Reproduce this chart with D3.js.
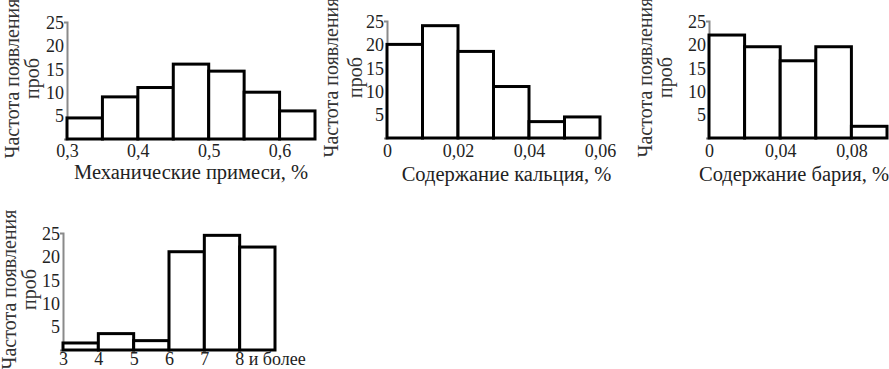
<!doctype html>
<html lang="ru">
<head>
  <meta charset="utf-8">
  <title>Histograms</title>
  <script src="https://d3js.org/d3.v7.min.js"></script>
  <style>
    html, body { margin: 0; padding: 0; background: #fff; }
    svg { display: block; font-family: "Liberation Serif", "Times New Roman", serif; }
    .bar { fill: #fff; stroke: #000; stroke-width: 3; }
    .axis path { stroke: #8a8a8a; stroke-width: 2; }
    .axis line { stroke: #8a8a8a; }
    .axis text { font-size: 18px; fill: #222; font-family: "Liberation Serif", serif; }
    .title { font-size: 20.5px; fill: #222; }
    .ylab { font-size: 20px; fill: #333; }
  </style>
</head>
<body>
<div id="chart"></div>
<script>
  // bin edges and counts
  const mechBins = [0.3, 0.35, 0.4, 0.45, 0.5, 0.55, 0.6, 0.65];
  const mechCounts = [4.5, 9, 11, 16, 14.5, 10, 6];
  const mechTicks = [0.3, 0.4, 0.5, 0.6];

  const calcBins = [0, 0.01, 0.02, 0.03, 0.04, 0.05, 0.06];
  const calcCounts = [20, 24, 18.5, 11, 3.5, 4.5];
  const calcTicks = [0, 0.02, 0.04, 0.06];

  const bariumBins = [0, 0.02, 0.04, 0.06, 0.08, 0.1];
  const bariumCounts = [22, 19.5, 16.5, 19.5, 2.5];
  const bariumTicks = [0, 0.04, 0.08];

  const countBins = [3, 4, 5, 6, 7, 8, 9];
  const countCounts = [1.5, 3.5, 2, 21, 24.5, 22];
  const countTicks = [3, 4, 5, 6, 7, 8];
  const countTickLabels = ["3", "4", "5", "6", "7", "8 и более"];

  const yTicks = [5, 10, 15, 20, 25];
  const yLabel = ["Частота появления", "проб"];

  const ru = d3.formatLocale({decimal: ",", thousands: " ", grouping: [3], currency: ["", ""]});
  const fmt = ru.format(".2~f");

  const W = 889, H = 369;
  const svg = d3.select('#chart').append('svg')
    .attr('width', W).attr('height', H)
    .attr('viewBox', `0 0 ${W} ${H}`);

  const panels = [
    { bins: mechBins, counts: mechCounts, ticks: mechTicks, fmt: fmt,
      title: "Механические примеси, %", pad: 5,
      x0: 67, x1: 315, base: 139, top: 22, titleY: 179, titleDx: 0, labDx: [-54, -34] },
    { bins: calcBins, counts: calcCounts, ticks: calcTicks, fmt: fmt,
      title: "Содержание кальция, %", pad: 6,
      x0: 387, x1: 600, base: 138, top: 21, titleY: 181, titleDx: 13, labDx: [-55, -31] },
    { bins: bariumBins, counts: bariumCounts, ticks: bariumTicks, fmt: fmt,
      title: "Содержание бария, %", pad: 6,
      x0: 709, x1: 887, base: 138, top: 21, titleY: 181, titleDx: -4, labDx: [-63, -43] },
    { bins: countBins, counts: countCounts, ticks: countTicks,
      fmt: d => countTickLabels[countTicks.indexOf(d)],
      title: null, pad: 2,
      x0: 63, x1: 275, base: 350, top: 233, titleY: 0, titleDx: 0, labDx: [-53, -33] }
  ];

  panels.forEach(p => {
    const x = d3.scaleLinear()
      .domain([p.bins[0], p.bins[p.bins.length - 1]])
      .range([p.x0, p.x1]);
    const y = d3.scaleLinear().domain([0, 25]).range([p.base, p.top]);

    const g = svg.append('g');

    // bars
    g.selectAll('rect.bar')
      .data(p.counts)
      .join('rect')
        .attr('class', 'bar')
        .attr('x', (d, i) => x(p.bins[i]))
        .attr('width', (d, i) => x(p.bins[i + 1]) - x(p.bins[i]))
        .attr('y', d => y(d))
        .attr('height', d => y(0) - y(d));

    // axes
    g.append('g')
      .attr('class', 'axis')
      .attr('transform', `translate(${p.x0},0)`)
      .call(d3.axisLeft(y).tickValues(yTicks).tickSize(0).tickSizeOuter(3).tickPadding(3))
      .call(a => a.selectAll('text').attr('dy', '0.35em'));

    const xa = g.append('g')
      .attr('class', 'axis')
      .attr('transform', `translate(0,${p.base})`)
      .call(d3.axisBottom(x).tickValues(p.ticks).tickFormat(p.fmt).tickSize(0).tickSizeOuter(0).tickPadding(p.pad));
    xa.select('.domain').remove();
    xa.selectAll('text').attr('dy', '0.71em');
    if (p.title === null) {
      // last label starts at its tick
      xa.selectAll('text').filter(d => d === 8)
        .attr('text-anchor', 'start').attr('dx', -5);
    }
    g.append('line')
      .attr('x1', p.x0).attr('x2', p.x1)
      .attr('y1', y(0)).attr('y2', y(0))
      .attr('stroke', '#8a8a8a').attr('stroke-width', 2);

    // bar outlines on top of the baseline
    g.selectAll('rect.bar').raise();

    if (p.title) {
      g.append('text')
        .attr('class', 'title')
        .attr('x', (p.x0 + p.x1) / 2 + p.titleDx)
        .attr('y', p.titleY)
        .attr('text-anchor', 'middle')
        .text(p.title);
    }

    const cy = (p.base + p.top) / 2 - 2;
    yLabel.forEach((t, i) => {
      g.append('text')
        .attr('class', 'ylab')
        .attr('transform', `translate(${p.x0 + p.labDx[i] + 6},${cy}) rotate(-90)`)
        .attr('text-anchor', 'middle')
        .text(t);
    });
  });
</script>
</body>
</html>
